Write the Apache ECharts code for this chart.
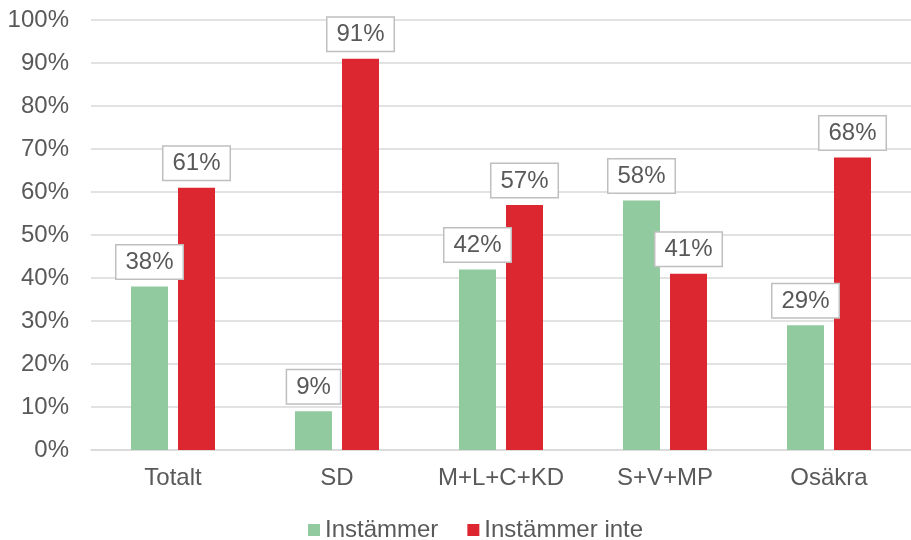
<!DOCTYPE html>
<html>
<head>
<meta charset="utf-8">
<script src="https://cdn.jsdelivr.net/npm/echarts@6/dist/echarts.min.js"></script>
<style>
html,body{margin:0;padding:0;background:#fff;}
#main{width:911px;height:540px;}
</style>
</head>
<body>
<div id="main"></div>
<script>
const categories = ['Totalt', 'SD', 'M+L+C+KD', 'S+V+MP', 'Osäkra'];
const instammer = [38, 9, 42, 58, 29];
const instammerInte = [61, 91, 57, 41, 68];
const yTicks = [0, 10, 20, 30, 40, 50, 60, 70, 80, 90, 100];

const font = "'Liberation Sans', Arial, sans-serif";
const txt = '#595959';
const fs = 24;

const labelStyle = {
  show: true,
  position: 'top',
  distance: 8,
  formatter: '{c}%',
  color: txt,
  fontFamily: font,
  fontSize: fs,
  backgroundColor: '#ffffff',
  borderColor: '#bfbfbf',
  borderWidth: 1.5,
  padding: [5, 9, 4, 9]
};

const chart = echarts.init(document.getElementById('main'), null, {renderer: 'canvas'});
chart.setOption({
  animation: false,
  backgroundColor: '#ffffff',
  grid: {left: 91, top: 20, width: 832, height: 430, containLabel: false},
  legend: {
    top: 513,
    left: 303,
    itemWidth: 12,
    itemHeight: 12,
    itemGap: 29,
    icon: 'rect',
    textStyle: {color: txt, fontFamily: font, fontSize: fs},
    data: ['Instämmer', 'Instämmer inte']
  },
  xAxis: {
    type: 'category',
    data: categories,
    axisLine: {lineStyle: {color: '#d9d9d9', width: 1.5}},
    axisTick: {show: false},
    axisLabel: {color: txt, fontFamily: font, fontSize: fs, margin: 16}
  },
  yAxis: {
    type: 'value',
    min: yTicks[0],
    max: yTicks[yTicks.length - 1],
    interval: 10,
    axisLine: {show: false},
    axisTick: {show: false},
    splitLine: {lineStyle: {color: '#d9d9d9', width: 1.5}},
    axisLabel: {color: txt, fontFamily: font, fontSize: fs, margin: 22, formatter: '{value}%'}
  },
  series: [
    {
      name: 'Instämmer',
      type: 'bar',
      data: instammer,
      barWidth: 37,
      barGap: '27%',
      itemStyle: {color: '#92CA9F'},
      label: labelStyle
    },
    {
      name: 'Instämmer inte',
      type: 'bar',
      data: instammerInte,
      barWidth: 37,
      barGap: '27%',
      itemStyle: {color: '#DC2630'},
      label: labelStyle
    }
  ]
});
</script>
</body>
</html>
